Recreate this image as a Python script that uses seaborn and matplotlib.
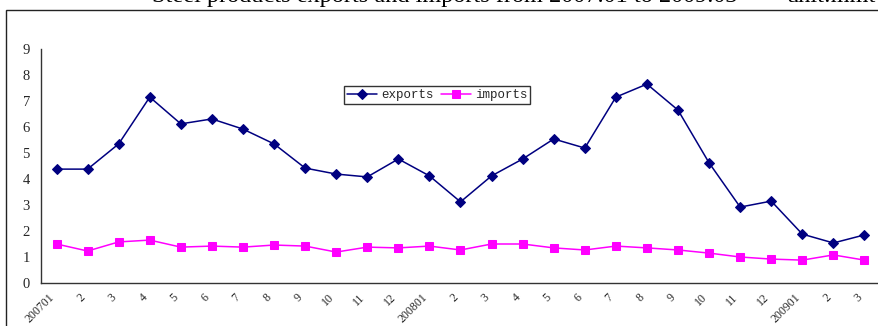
import matplotlib
matplotlib.use("Agg")
import matplotlib.pyplot as plt
from matplotlib.patches import Rectangle
import seaborn as sns
import pandas as pd

months = ["200701", "2", "3", "4", "5", "6", "7", "8", "9", "10", "11", "12",
          "200801", "2", "3", "4", "5", "6", "7", "8", "9", "10", "11", "12",
          "200901", "2", "3"]
exports = [4.38, 4.38, 5.35, 7.15, 6.12, 6.31, 5.92, 5.35, 4.42, 4.19, 4.08, 4.77,
           4.12, 3.12, 4.12, 4.77, 5.54, 5.19, 7.15, 7.65, 6.65, 4.62, 2.92, 3.15,
           1.88, 1.54, 1.85]
imports = [1.50, 1.23, 1.58, 1.65, 1.38, 1.42, 1.38, 1.46, 1.42, 1.19, 1.38, 1.35,
           1.42, 1.27, 1.50, 1.50, 1.35, 1.27, 1.42, 1.35, 1.27, 1.15, 1.00, 0.92,
           0.88, 1.08, 0.88]
yticks = list(range(0, 10))

df = pd.DataFrame({"pos": range(len(months)), "exports": exports, "imports": imports})

sns.set_theme(style="white")
plt.rcParams["font.family"] = ["Liberation Serif", "DejaVu Serif"]

W, H = 879, 326
fig = plt.figure(figsize=(W / 100, H / 100), dpi=100)
fig.patch.set_facecolor("white")

# outer chart frame
fig.add_artist(Rectangle((6 / W, -0.1), 1.2, 1.1 - 10 / H, transform=fig.transFigure,
                         fill=False, edgecolor="#222222", linewidth=1.0))

# title, sitting partly above the top edge
fig.text(152 / W, 1 - 2 / H, "Steel products exports and imports from 2007.01 to 2009.03",
         ha="left", va="baseline", fontsize=17.5, color="black")
fig.text(787 / W, 1 - 2 / H, "unit:mmt", ha="left", va="baseline", fontsize=17.5, color="black")

ax = fig.add_axes([41 / W, (H - 283) / H, (880 - 41) / W, (283 - 49) / H])
ax.set_facecolor("white")

sns.lineplot(data=df, x="pos", y="exports", ax=ax, color="#000080", linewidth=1.1,
             marker="D", markersize=5.5, markeredgecolor="#000080", label="exports")
sns.lineplot(data=df, x="pos", y="imports", ax=ax, color="#FF00FF", linewidth=1.1,
             marker="s", markersize=5.5, markeredgecolor="#FF00FF", label="imports")

ax.set_xlim(-0.5, len(months) - 0.5)
ax.set_ylim(0, 9)
ax.set_yticks(yticks)
ax.set_yticklabels([str(v) for v in yticks], fontsize=10.5)
ax.set_xticks([i - 0.5 for i in range(len(months))], minor=False)
ax.set_xticklabels([])
ax.set_xticks(range(len(months)), minor=True)
ax.set_xticklabels(months, minor=True, rotation=45, ha="right", fontsize=8.5)
ax.tick_params(axis="x", which="minor", length=0, pad=6)
ax.tick_params(axis="x", which="major", direction="in", length=4, width=1, color="#333333")
ax.tick_params(axis="y", direction="in", length=4, width=1, color="#333333", pad=8)
ax.set_xlabel("")
ax.set_ylabel("")

for side in ["top", "right"]:
    ax.spines[side].set_visible(False)
for side in ["left", "bottom"]:
    ax.spines[side].set_color("#333333")
    ax.spines[side].set_linewidth(1.0)

leg = ax.legend(loc="upper left", bbox_to_anchor=(344 / W, 1 - 86 / H),
                bbox_transform=fig.transFigure, ncol=2, frameon=True, fancybox=False,
                borderaxespad=0, handlelength=2.4, handletextpad=0.3, columnspacing=0.6,
                borderpad=0.25, prop={"family": "Liberation Mono", "size": 9})
leg.get_frame().set_edgecolor("black")
leg.get_frame().set_linewidth(1.0)

fig.savefig("out.png", dpi=100)
